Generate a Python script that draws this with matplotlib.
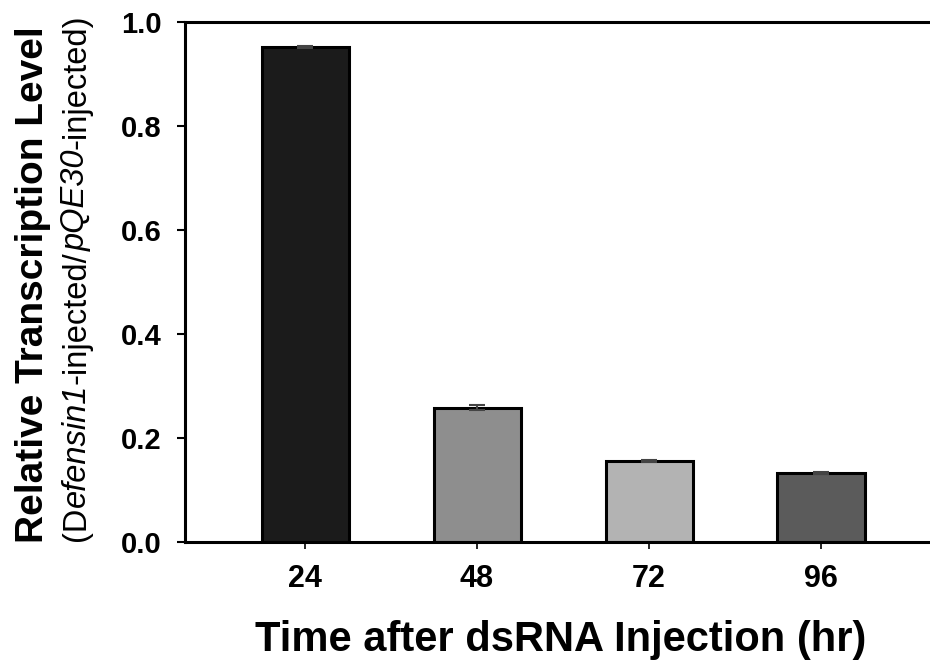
import matplotlib.pyplot as plt

plt.rcParams['font.family'] = ['Liberation Sans', 'DejaVu Sans']

# Relative transcription level per time point
hours = ['24', '48', '72', '96']
levels = [0.952, 0.258, 0.156, 0.133]
errors = [0.002, 0.005, 0.002, 0.002]
colors = ['#1b1b1b', '#8e8e8e', '#b3b3b3', '#5b5b5b']

W, H = 930, 664
fig = plt.figure(figsize=(W / 100, H / 100), dpi=100)
ax = fig.add_axes([185 / W, 122 / H, 765 / W, 520 / H])

x = range(len(hours))
ax.bar(x, levels, width=0.506, color=colors, edgecolor='black', linewidth=2.2,
       yerr=errors, capsize=5.5, error_kw=dict(ecolor='#444444', elinewidth=1.5, capthick=1.5),
       zorder=2)

ax.set_xlim(-0.698, 3.75)
ax.set_ylim(0, 1.0)
ax.set_yticks([0.0, 0.2, 0.4, 0.6, 0.8, 1.0])
ax.set_yticklabels(['0.0', '0.2', '0.4', '0.6', '0.8', '1.0'])
ax.set_xticks(list(x))
ax.set_xticklabels(hours)

for s in ['left', 'top', 'bottom']:
    ax.spines[s].set_linewidth(2.2)
ax.spines['right'].set_visible(False)

ax.tick_params(axis='y', direction='out', length=6, width=1.5, pad=11, labelsize=21)
ax.tick_params(axis='x', direction='out', length=5, width=1.2, pad=11, labelsize=22)
for lab in ax.get_xticklabels() + ax.get_yticklabels():
    lab.set_fontweight('bold')

fig.text(561 / W, 1 - 640 / H, 'Time after dsRNA Injection (hr)', fontsize=30,
         fontweight='bold', ha='center', va='center')

# y label, first line
fig.text(43 / W, 1 - 285 / H, 'Relative Transcription Level', rotation=90,
         rotation_mode='anchor', fontsize=28, fontweight='bold', ha='center', va='baseline')

# y label, second line with italic gene names, built piece by piece
pieces = [('(D', 'normal'), ('efensin1', 'italic'), ('-injected/', 'normal'),
          ('pQE30', 'italic'), ('-injected)', 'normal')]
renderer = fig.canvas.get_renderer()
texts = []
for s, style in pieces:
    t = fig.text(0, 0, s, rotation=90, rotation_mode='anchor', fontsize=23.5,
                 fontstyle=style, ha='left', va='baseline')
    texts.append(t)
lengths = [t.get_window_extent(renderer).height for t in texts]
total = sum(lengths)
ypix = (H - 278) - total / 2
for t, L in zip(texts, lengths):
    t.set_position((85 / W, ypix / H))
    ypix += L

fig.savefig('out.png', dpi=100)
